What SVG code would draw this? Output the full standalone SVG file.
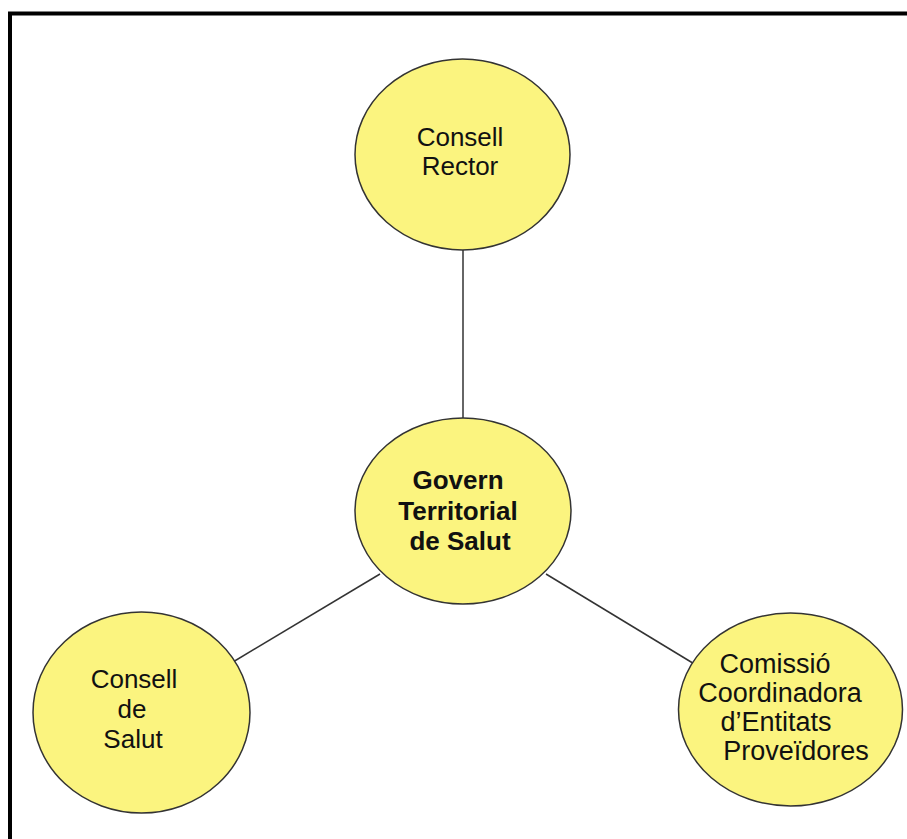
<svg xmlns="http://www.w3.org/2000/svg" width="907" height="839" viewBox="0 0 907 839">
  <style>
    .node ellipse { fill: #fbf47f; stroke: #333333; stroke-width: 1.5; }
    .node text { font-family: "Liberation Sans", Arial, sans-serif; font-size: 26px; fill: #111111; text-anchor: middle; }
    .node text.bold { font-weight: bold; }
    .node text.big { font-size: 27px; }
    #connectors line { stroke: #333333; stroke-width: 1.5; }
    .frame { fill: none; stroke: #000000; stroke-width: 4; }
  </style>

  <rect width="907" height="839" fill="#ffffff"/>
  <!-- outer frame, open to the right and bottom -->
  <rect class="frame" x="10" y="13.5" width="1000" height="1000"/>

  <g id="connectors">
    <line x1="463" y1="245" x2="463" y2="422"/>
    <line x1="380" y1="574" x2="228" y2="665"/>
    <line x1="546" y1="574" x2="696" y2="665"/>
  </g>

  <g id="consell-rector" class="node">
    <ellipse cx="462.5" cy="154.5" rx="107.5" ry="95.5"/>
    <text x="460" y="146">Consell</text>
    <text x="460" y="175">Rector</text>
  </g>

  <g id="govern-territorial" class="node">
    <ellipse cx="463" cy="511" rx="108" ry="93"/>
    <text class="bold" x="458" y="489">Govern</text>
    <text class="bold" x="458" y="520">Territorial</text>
    <text class="bold" x="460" y="550">de Salut</text>
  </g>

  <g id="consell-salut" class="node">
    <ellipse cx="141.5" cy="712.5" rx="108.5" ry="100.5"/>
    <text x="134" y="688">Consell</text>
    <text x="132" y="718">de</text>
    <text x="133" y="748">Salut</text>
  </g>

  <g id="comissio-coordinadora" class="node">
    <ellipse cx="790.5" cy="709.5" rx="112" ry="96.5"/>
    <text class="big" x="775" y="673">Comissió</text>
    <text class="big" x="780" y="702">Coordinadora</text>
    <text class="big" x="776" y="731">d’Entitats</text>
    <text class="big" x="796" y="760">Proveïdores</text>
  </g>
</svg>
